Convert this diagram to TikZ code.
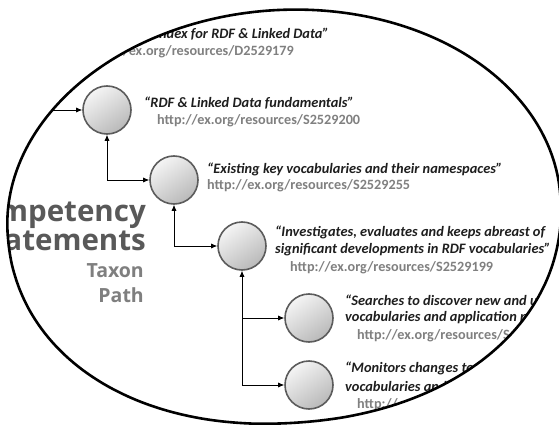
\documentclass[tikz,border=0pt]{standalone}
\usepackage{fontspec}
\setmainfont{Carlito}
\newfontfamily\headfont{Open Sans}
\usetikzlibrary{arrows.meta}
\definecolor{qcol}{HTML}{1E1E1E}
\definecolor{ucol}{HTML}{808080}
\definecolor{hcol}{HTML}{595959}
\definecolor{tcol}{HTML}{7F7F7F}
\definecolor{rimcol}{HTML}{5C5C5C}
\tikzset{
  declare function={
    ex(\t)=277*cos(\t);
    ey(\t)=205*sin(\t);
    sx(\t)=277*sign(cos(\t))*abs(cos(\t))^0.943;
    sy(\t)=208*abs(sin(\t))^0.943;
  },
  ball/.style={circle, minimum size=48pt, inner sep=0pt, draw=rimcol, line width=1.6pt,
    top color=gray!8, bottom color=gray!55, shading angle=35},
  conn/.style={line width=0.7pt, >={Latex[length=6pt,width=5pt]}},
  quote/.style={anchor=west, inner sep=0pt, font=\fontsize{14.4}{16}\selectfont\bfseries\itshape, text=qcol},
  url/.style={anchor=west, inner sep=0pt, font=\fontsize{14.2}{16}\selectfont\bfseries, text=ucol},
  bighead/.style={anchor=east, inner sep=0pt, font=\fontsize{29.5}{31}\selectfont\headfont\bfseries, text=hcol},
  smallhead/.style={anchor=east, inner sep=0pt, font=\fontsize{19.5}{21}\selectfont\headfont\bfseries, text=tcol},
  rim/.style={line width=2.6pt, black}
}
\begin{document}
\begin{tikzpicture}[x=1pt,y=-1pt]
\useasboundingbox[fill=white] (0,0) rectangle (559,425);
\def\rimpath{plot[domain=180.5:359.5, samples=80, smooth] ({284+0.9976*ex(\x)+0.0698*ey(\x)}, {215-0.0698*ex(\x)+0.9976*ey(\x)})
  -- plot[domain=0.5:179.5, samples=80, smooth] ({284+0.9976*sx(\x)+0.0698*sy(\x)}, {215-0.0698*sx(\x)+0.9976*sy(\x)}) -- cycle}
\begin{scope}
\clip \rimpath;
% circles
\node[ball] (c1) at (107,110) {};
\node[ball] (c2) at (174,180) {};
\node[ball] (c3) at (242,246) {};
\node[ball] (c4) at (309,318) {};
\node[ball] (c5) at (309,385) {};
% connectors
\coordinate (in1) at (10,110);
\draw[conn,->] (in1) -- (c1.west);
\draw[conn,<->] (c2.west) -| (c1.south);
\draw[conn,<->] (c3.west) -| (c2.south);
\draw[conn,<->] (c5.west) -| (c3.south);
\draw[conn,->] (c3.south |- c4.west) -- (c4.west);
% texts
\node[quote, anchor=east] (t0) at (329,34) {index for RDF \& Linked Data”};
\node[url, anchor=east] (u0) at (294,52) {http://ex.org/resources/D2529179};
\node[quote] (t1) at (144,103) {“RDF \& Linked Data fundamentals”};
\node[url] (u1) at (157,121) {http://ex.org/resources/S2529200};
\node[quote] (t2) at (207,169) {“Existing key vocabularies and their namespaces”};
\node[url] (u2) at (207,186) {http://ex.org/resources/S2529255};
\node[quote] (t3a) at (275,232) {“Investigates, evaluates and keeps abreast of};
\node[quote] (t3b) at (275,250) {significant developments in RDF vocabularies”};
\node[url] (u3) at (290,268) {http://ex.org/resources/S2529199};
\node[quote] (t4a) at (345,300) {“Searches to discover new and u};
\node[quote] (t4b) at (345,318) {vocabularies and application p};
\node[url] (u4) at (357,336) {http://ex.org/resources/S};
\node[quote] (t5a) at (345,368) {“Monitors changes to};
\node[quote] (t5b) at (345,386) {vocabularies and};
\node[url] (u5) at (357,405) {http://};
% left heading
\node[bighead] (h1) at (146,214) {Competency};
\node[bighead] (h2) at (146,240) {Statements};
\node[smallhead] (h3) at (144,271) {Taxon};
\node[smallhead] (h4) at (144,295) {Path};
\end{scope}
\draw[rim] \rimpath;
\end{tikzpicture}
\end{document}
